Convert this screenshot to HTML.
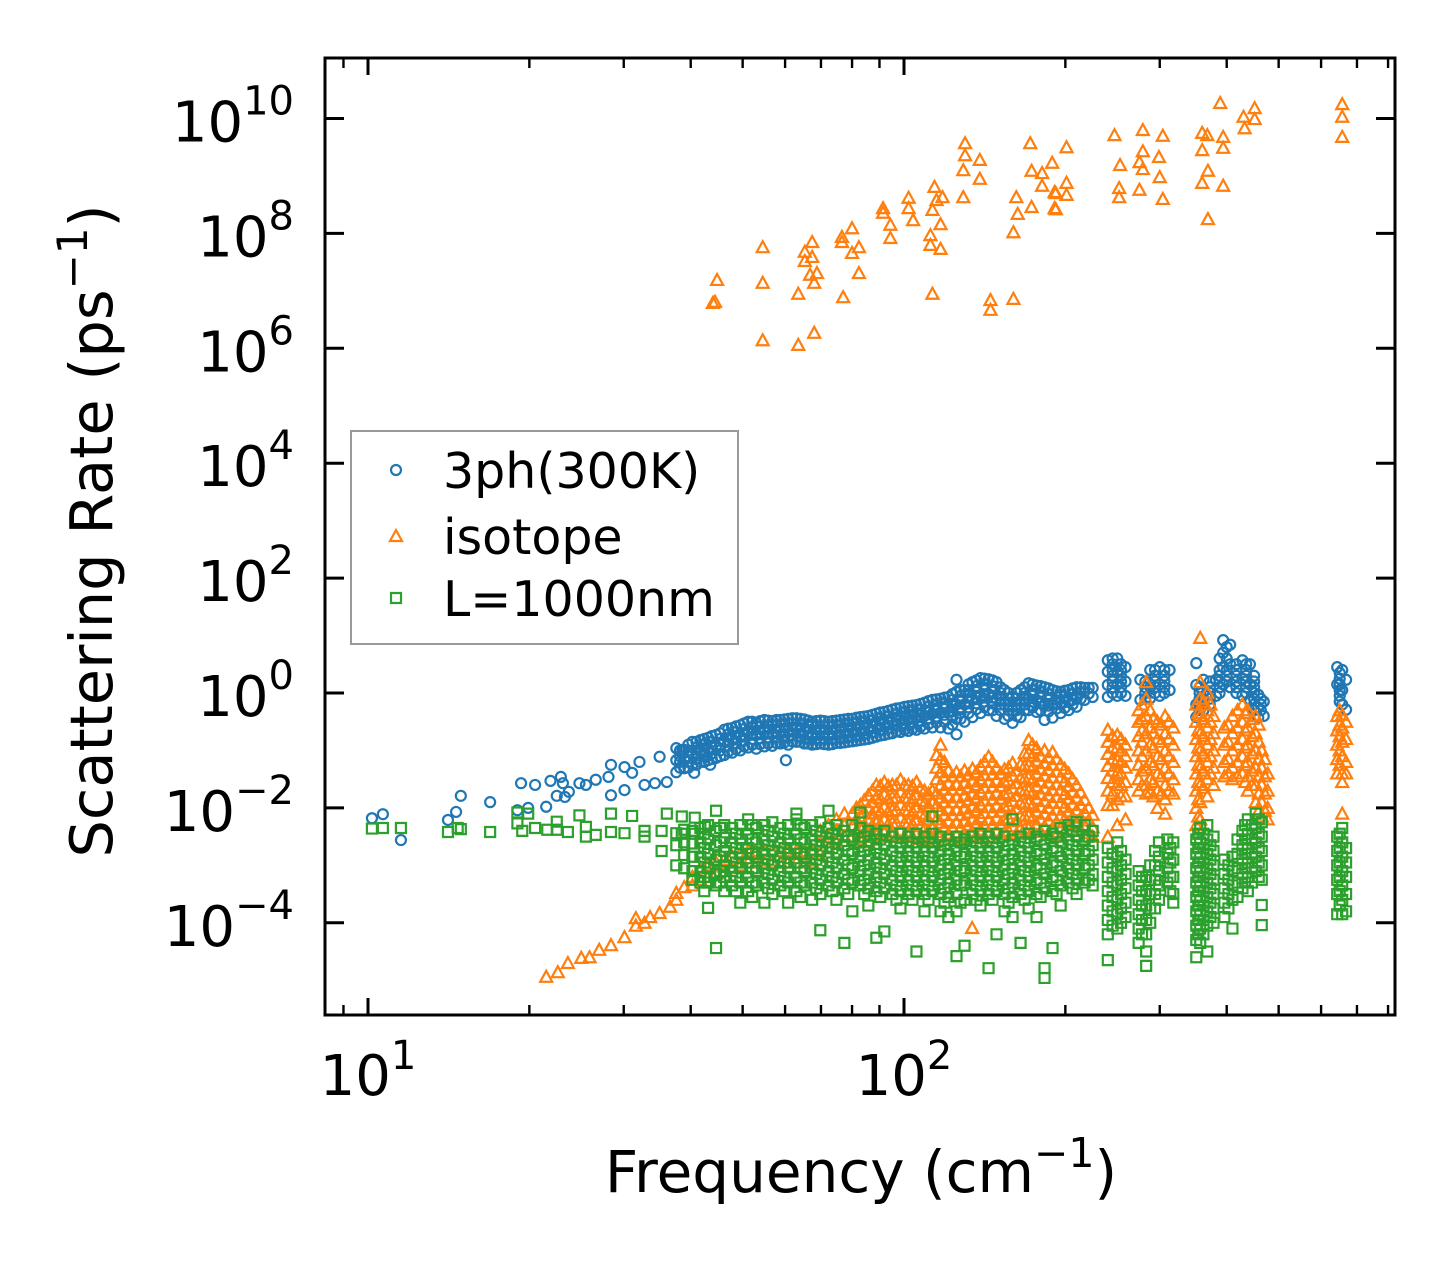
<!DOCTYPE html>
<html><head><meta charset="utf-8"><style>
html,body{margin:0;padding:0;background:#fff;}
svg{display:block;font-family:"DejaVu Sans","Liberation Sans",sans-serif;}
</style></head><body>
<svg id="chart" width="1455" height="1265" viewBox="0 0 1455 1265" xmlns="http://www.w3.org/2000/svg">
<rect width="1455" height="1265" fill="#fff"/>
<g id="marks"></g>
<g id="axes"></g>
<g id="legend"></g>
</svg>
<script>
// ---- data: frequency (cm^-1) and log10(scattering rate, ps^-1) per frequency ----
const xMajorTicks = [10, 100];
const xMinorTicks = [9, 20, 30, 40, 50, 60, 70, 80, 90, 200, 300, 400, 500, 600, 700, 800];
const yTickExponents = [-4, -2, 0, 2, 4, 6, 8, 10];
const yTickLabels = ["\u22124", "\u22122", "0", "2", "4", "6", "8", "10"];
const seriesNames = ["3ph(300K)", "isotope", "L=1000nm"];

const phFreq = [10.17,10.66,11.52,14.1,14.6,14.9,16.9,19.0,19.3,19.9,20.5,21.5,21.9,22.5,22.9,23.1,23.3,23.7,24.8,25.5,26.6,28.1,28.4,30.1,31.1,32.1,32.8,34.3,35.0,36.1,38.6,40.6,43.5,60.2,
37.6,38.9,40.3,41.7,43.1,44.6,46.2,47.8,49.5,51.2,53.0,54.9,56.8,58.8,60.8,63.0,65.2,67.4,69.8,72.3,74.8,77.4,80.1,82.9,85.8,88.8,91.9,95.1,98.5,101.9,105.5,109.2,113,117,121,125.3,129.7,134.2,138.9,143.8,148.8,154,159.4,165,170.8,176.7,182.9,189.3,196,202.8,209.9,217.3,224.9,
240,250,259,276,288,300,313,351,362,382,394,406,428,442,458,469,643,657,668];
const phLogRate = [[-2.18],[-2.11],[-2.56],[-2.21],[-2.07],[-1.79],[-1.9],[-2.04],[-1.57],[-2.0],[-1.6],[-1.98],[-1.53],[-1.79],[-1.46],[-1.57],[-1.81],[-1.72],[-1.57],[-1.6],[-1.51],[-1.46],[-1.25,-1.78],[-1.29,-1.69],[-1.39],[-1.2],[-1.6],[-1.57],[-1.11],[-1.55],[-0.99],[-1.39],[-1.25],[-1.17],
[-0.96,-1.17,-1.38],[-0.99,-1.15,-1.31],[-0.85,-1.05,-1.25],[-0.82,-1.0,-1.2],[-0.78,-0.97,-1.17],[-0.73,-0.92,-1.13],[-0.64,-0.84,-1.08],[-0.61,-0.8,-1.04],[-0.56,-0.75,-1.0],[-0.5,-0.7,-0.95],[-0.52,-0.72,-0.97],[-0.47,-0.68,-0.93],[-0.49,-0.7,-0.92],[-0.47,-0.66,-0.88],[-0.45,-0.65,-0.9],[-0.44,-0.63,-0.85],[-0.46,-0.66,-0.88],[-0.5,-0.7,-0.9],[-0.48,-0.68,-0.88],[-0.5,-0.7,-0.9],[-0.48,-0.67,-0.87],[-0.46,-0.66,-0.86],[-0.45,-0.64,-0.84],[-0.42,-0.62,-0.82],[-0.4,-0.6,-0.8],[-0.36,-0.56,-0.76],[-0.33,-0.53,-0.73],[-0.29,-0.5,-0.7],[-0.26,-0.47,-0.68],[-0.23,-0.45,-0.66],[-0.21,-0.43,-0.64],[-0.17,-0.4,-0.62],[-0.12,-0.36,-0.6],[-0.1,-0.34,-0.6],[-0.07,-0.33,-0.62],[0.02,0.23,-0.2,-0.45,-0.72],[0.05,-0.2,-0.5],[0.19,-0.1,-0.42],[0.26,-0.05,-0.35],[0.24,-0.02,-0.3],[0.19,-0.1,-0.4],[0.05,-0.2,-0.45],[-0.07,-0.3,-0.52],[0.05,-0.2,-0.42],[0.17,-0.1,-0.3],[0.13,-0.12,-0.33],[0.1,-0.2,-0.47],[0.05,-0.2,-0.43],[0.02,-0.17,-0.35],[0.05,-0.14,-0.3],[0.1,-0.1,-0.24],[0.09,-0.12],[0.09,-0.07],
[0.57,0.37,0.14,-0.07],[0.6,0.38,0.15,-0.05],[0.45,0.2,-0.05],[0.23,-0.12],[0.4,0.1,-0.09],[0.45,0.15,-0.05],[0.4,0.05],[0.52,0.14,-0.2,-0.42],[0.23,-0.1,-0.3],[0.23,-0.05],[0.92,0.7,0.45,0.15],[0.84,0.5,0.1],[0.57,0.25,-0.05],[0.5,0.15,-0.12],[-0.03,-0.25,-0.43],[-0.15,-0.4],[0.45,0.15],[0.4,0.05,-0.2],[0.23,-0.29]];
const phFreqB = [38.2,39.6,41.0,42.4,43.8,45.4,47.0,48.6,50.3,52.1,53.9,55.8,57.8,59.8,61.9,64.1,66.3,68.6,71.0,73.5,76.1,78.7,81.5,84.3,87.3,90.3,93.5,96.8,100.2,103.7,107.3,111.1,115,119,123.1,127.5,131.9,136.5,141.3,146.3,151.4,156.7,162.2,167.9,173.7,179.8,186.1,192.6,199.4,206.3,213.6,221.1,
245,254,282,294,306,356,372,388,400,417,435,450,463,650];
const phLogRateB = [[-1.0,-1.1,-1.2,-1.3],[-0.9,-1.0,-1.1,-1.2,-1.3],[-0.85,-0.95,-1.05,-1.15,-1.25],[-0.8,-0.9,-1.0,-1.1,-1.2],[-0.75,-0.85,-0.95,-1.05,-1.15],[-0.7,-0.8,-0.9,-1.0,-1.1],[-0.62,-0.72,-0.82,-0.92,-1.02],[-0.58,-0.68,-0.78,-0.88,-0.98],[-0.53,-0.63,-0.73,-0.83,-0.93],[-0.5,-0.6,-0.7,-0.8,-0.9],[-0.49,-0.59,-0.69,-0.79,-0.89],[-0.48,-0.58,-0.68,-0.78,-0.88],[-0.47,-0.57,-0.67,-0.77,-0.87],[-0.46,-0.56,-0.66,-0.76,-0.86],[-0.44,-0.54,-0.64,-0.74,-0.84],[-0.45,-0.55,-0.65,-0.75,-0.85],[-0.48,-0.58,-0.68,-0.78,-0.88],[-0.49,-0.59,-0.69,-0.79,-0.89],[-0.49,-0.59,-0.69,-0.79,-0.89],[-0.49,-0.59,-0.69,-0.79,-0.89],[-0.47,-0.57,-0.67,-0.77,-0.87],[-0.45,-0.55,-0.65,-0.75,-0.85],[-0.43,-0.53,-0.63,-0.73,-0.83],[-0.41,-0.51,-0.61,-0.71,-0.81],[-0.38,-0.48,-0.58,-0.68,-0.78],[-0.34,-0.44,-0.54,-0.64,-0.74],[-0.31,-0.41,-0.51,-0.61,-0.71],[-0.27,-0.37,-0.47,-0.57,-0.67],[-0.24,-0.34,-0.44,-0.54,-0.64],[-0.22,-0.32,-0.42,-0.52,-0.62],[-0.19,-0.29,-0.39,-0.49,-0.59],[-0.14,-0.24,-0.34,-0.44,-0.54],[-0.11,-0.21,-0.31,-0.41,-0.51],[-0.08,-0.18,-0.28,-0.38,-0.5],[-0.02,-0.12,-0.22,-0.32,-0.42,-0.55],[0.05,-0.05,-0.15,-0.25,-0.35,-0.45],[0.15,0.05,-0.05,-0.15,-0.25,-0.35],[0.22,0.12,0.02,-0.08,-0.18,-0.28],[0.25,0.15,0.05,-0.05,-0.15,-0.25],[0.22,0.12,0.02,-0.08,-0.18,-0.3],[0.1,0.0,-0.1,-0.2,-0.3],[0.0,-0.1,-0.2,-0.3,-0.4],[0.0,-0.1,-0.2,-0.3,-0.4],[0.1,0.0,-0.1,-0.2,-0.3],[0.15,0.05,-0.05,-0.15,-0.25],[0.12,0.02,-0.08,-0.18,-0.3],[0.08,-0.02,-0.12,-0.22,-0.32],[0.03,-0.07,-0.17,-0.27],[0.04,-0.06,-0.16,-0.26],[0.08,-0.02,-0.12,-0.2],[0.1,0.0,-0.1],[0.09,-0.01],
[0.6,0.5,0.4,0.3,0.2,0.1,0.0],[0.5,0.4,0.3,0.2,0.1,0.0],[0.2,0.1,0.0,-0.1],[0.4,0.3,0.2,0.1,0.0],[0.4,0.3,0.2,0.1,0.0],[0.1,0.0,-0.1,-0.2,-0.3],[0.2,0.1,0.0,-0.1,-0.2],[0.6,0.4,0.3,0.2,0.1,0.0],[0.8,0.6,0.4,0.3,0.2],[0.5,0.4,0.3,0.2,0.1,0.0],[0.5,0.4,0.3,0.2,0.1,0.0],[0.3,0.2,0.1,0.0,-0.1,-0.2,-0.3],[-0.1,-0.2,-0.3],[0.35,0.25,0.15,0.05,-0.05,-0.15]];

const isoFreq = [44.0,44.4,44.8,54.5,63.5,65.3,66.8,67.4,68.0,68.8,76.6,77.0,80.0,82.4,91.4,94.3,102,104,112,113,114,115,117,118,129,130,138.5,145,160,162,163,172,173,181,189,191,192,201,247,252,253,275,279,299,300,304,360,368,369,389,394,430,432,451,657,
21.5,22.6,23.6,25.0,25.9,27.0,28.4,30.1,31.6,32.8,33.6,35.0,36.6,37.6,38.9,40.3,41.7,43.1,44.6,46.2,47.8,49.5,51.2,53.0,54.9,56.8,58.8,60.8,63.0,65.2,67.4,69.8,72.3,74.8,77.4,80.1,82.9,85.8,88.8,91.9,95.1,98.5,101.9,105.5,109.2,113,117,121,125.3,129.7,134.2,138.9,143.8,148.8,154,159.4,165,170.8,176.7,182.9,189.3,196,202.8,209.9,217.3,224.9,
115,134,240,250,259,274,283,288,297,307,318,351,357,368,378,396,410,428,438,453,465,477,643,657,668];
const isoLogRate = [[6.79],[6.81],[7.19],[7.76,7.14,6.14],[6.95,6.06],[7.68,7.52],[7.28],[7.85,7.59],[7.14,6.27],[7.31],[7.94,7.85],[6.89],[8.09,7.66],[7.76,7.31],[8.44,8.36],[8.15,7.92],[8.62,8.44],[8.23],[7.97,7.8],[8.41,6.95],[8.81],[8.58],[8.16,7.73],[8.63],[9.1,8.63],[9.57,9.36],[9.28,8.95],[6.84,6.67],[6.86,8.02],[8.63],[8.34],[9.57],[8.46,9.09],[9.05,8.83],[9.23],[8.72,8.44],[8.7,8.42],[9.5,8.88,8.67],[9.71],[8.79,8.63],[9.19],[8.76,9.24],[9.8,9.43,9.12],[9.33],[8.98],[9.7,8.6],[9.75,9.45,8.88],[9.71],[9.09,8.25],[10.27],[9.68,9.49,8.83],[10.03],[9.83],[10.18,9.99],[10.25,10.03,9.68],
[-4.94],[-4.86],[-4.7],[-4.61],[-4.6],[-4.47],[-4.39],[-4.25],[-3.92,-4.05],[-4.0],[-3.9],[-3.83],[-3.72],[-3.48,-3.6],[-3.38],[-3.2,-3.35],[-3.05,-3.25],[-3.0,-3.2],[-2.95,-3.15],[-2.9,-3.1],[-2.85,-3.05],[-2.8,-3.0],[-2.75,-2.95],[-2.75,-2.95],[-2.75,-2.95],[-2.75,-2.95],[-2.75,-2.95],[-2.75,-2.95],[-2.75,-2.95],[-2.75,-2.95],[-2.75,-2.95],[-2.4,-2.6,-2.8],[-2.3,-2.5,-2.7],[-2.2,-2.4,-2.6],[-2.1,-2.3,-2.5],[-2.1,-2.3,-2.5],[-1.95,-2.15,-2.35,-2.55],[-1.78,-2.0,-2.2,-2.4,-2.6],[-1.6,-1.82,-2.04,-2.26,-2.48],[-1.55,-1.77,-1.99,-2.21,-2.43],[-1.6,-1.82,-2.04,-2.26,-2.48],[-1.51,-1.73,-1.95,-2.17,-2.39],[-1.6,-1.82,-2.04,-2.26,-2.48],[-1.55,-1.77,-1.99,-2.21,-2.43],[-1.7,-1.92,-2.14,-2.36,-2.58],[-1.7,-1.92,-2.14,-2.36,-2.58],[-0.9,-1.15,-1.38,-1.6,-1.82,-2.04,-2.26,-2.48],[-1.35,-1.57,-1.79,-2.01,-2.23,-2.45],[-1.38,-1.6,-1.82,-2.04,-2.26,-2.48],[-1.35,-1.57,-1.79,-2.01,-2.23,-2.45],[-1.32,-1.54,-1.76,-1.98,-2.2,-2.42],[-1.28,-1.5,-1.72,-1.94,-2.16,-2.38],[-1.11,-1.33,-1.55,-1.77,-1.99,-2.21,-2.43],[-1.3,-1.52,-1.74,-1.96,-2.18,-2.4],[-1.33,-1.55,-1.77,-1.99,-2.21,-2.43],[-1.22,-1.44,-1.66,-1.88,-2.1,-2.32],[-1.25,-1.47,-1.69,-1.91,-2.13,-2.35],[-0.82,-1.04,-1.26,-1.48,-1.7,-1.92,-2.14,-2.36],[-0.96,-1.18,-1.4,-1.62,-1.84,-2.06,-2.28],[-1.0,-1.22,-1.44,-1.66,-1.88,-2.1,-2.32],[-1.03,-1.25,-1.47,-1.69,-1.91,-2.13,-2.35],[-1.25,-1.47,-1.69,-1.91,-2.13,-2.35],[-1.4,-1.62,-1.84,-2.06,-2.28],[-1.6,-1.82,-2.04,-2.26],[-1.86,-2.08,-2.3],[-2.12,-2.34,-2.5],
[-1.08],[-4.09],[-0.64,-0.85,-1.06,-1.27,-1.48,-1.7,-1.95,-2.5],[-0.73,-0.95,-1.17,-1.39,-1.6,-1.85,-2.3],[-0.9,-1.1,-1.3,-1.55,-1.8,-2.2],[-0.3,-0.5,-0.75,-1.0,-1.25,-1.5,-1.7],[0.19,-0.1,-0.4,-0.7,-1.0,-1.3,-1.6,-1.75],[-0.3,-0.6,-0.9,-1.2,-1.5,-1.72],[-0.5,-0.8,-1.1,-1.4,-1.7,-2.0],[-0.4,-0.7,-1.0,-1.3,-1.6,-1.85,-2.1],[-0.6,-0.9,-1.2,-1.5,-1.75],[-0.2,-0.5,-0.8,-1.1,-1.4,-1.7,-2.0,-2.3],[0.96,0.19,-0.1,-0.4,-0.7,-1.0,-1.3,-1.6,-1.9,-2.2],[0.01,-0.3,-0.6,-0.9,-1.2,-1.5,-1.8],[-0.4,-0.7,-1.0,-1.3,-1.6],[-0.6,-0.9,-1.2,-1.45],[-0.4,-0.7,-1.0,-1.3,-1.5],[-0.2,-0.5,-0.8,-1.1,-1.4],[-0.3,-0.6,-0.9,-1.2,-1.45,-1.7],[-0.4,-0.7,-1.0,-1.3,-1.6,-1.9],[-1.0,-1.3,-1.6,-1.9,-2.15],[-1.4,-1.7,-2.0,-2.2],[-0.4,-0.65,-0.9,-1.15,-1.4],[-0.38,-0.6,-0.85,-1.1,-1.4,-1.55,-2.1],[-0.5,-0.8,-1.2,-1.4]];
const isoFreqB = [81.5,84.3,87.3,90.3,93.5,96.8,100.2,103.7,107.3,111.1,115,119,123.1,127.5,131.9,136.5,141.3,146.3,151.4,156.7,162.2,167.9,173.7,179.8,186.1,192.6,199.4,206.3,213.6,221.1,
245,254,278,292,302,312,354,362,373,403,419,433,446,459,471,650];
const isoLogRateB = [[-2.0,-2.2,-2.4,-2.6],[-1.87,-2.08,-2.3,-2.5],[-1.7,-1.9,-2.1,-2.3,-2.5],[-1.62,-1.84,-2.06,-2.28,-2.5],[-1.62,-1.84,-2.06,-2.28,-2.5],[-1.6,-1.82,-2.04,-2.26,-2.5],[-1.6,-1.82,-2.04,-2.26,-2.5],[-1.62,-1.84,-2.06,-2.28,-2.5],[-1.66,-1.88,-2.1,-2.32,-2.54],[-1.75,-1.97,-2.2,-2.42,-2.6],[-1.3,-1.5,-1.75,-1.97,-2.2,-2.42,-2.6],[-1.2,-1.45,-1.68,-1.9,-2.12,-2.34,-2.56],[-1.45,-1.68,-1.9,-2.12,-2.34,-2.56],[-1.45,-1.68,-1.9,-2.12,-2.34,-2.56],[-1.42,-1.64,-1.86,-2.08,-2.3,-2.52],[-1.38,-1.6,-1.82,-2.04,-2.26,-2.48],[-1.2,-1.43,-1.65,-1.87,-2.09,-2.31,-2.53],[-1.2,-1.41,-1.63,-1.85,-2.07,-2.29,-2.5],[-1.4,-1.62,-1.84,-2.06,-2.28,-2.5],[-1.3,-1.52,-1.74,-1.96,-2.18,-2.4],[-1.35,-1.57,-1.79,-2.01,-2.23,-2.45],[-1.05,-1.27,-1.49,-1.71,-1.93,-2.15,-2.37],[-0.9,-1.1,-1.3,-1.52,-1.74,-1.96,-2.18,-2.4],[-1.1,-1.32,-1.54,-1.76,-1.98,-2.2,-2.42],[-1.12,-1.34,-1.56,-1.78,-2.0,-2.22,-2.44],[-1.15,-1.37,-1.59,-1.81,-2.03,-2.25,-2.47],[-1.32,-1.54,-1.76,-1.98,-2.2,-2.42],[-1.5,-1.72,-1.94,-2.16,-2.38],[-1.73,-1.95,-2.17,-2.39],[-2.0,-2.22,-2.44],
[-0.75,-0.95,-1.15,-1.35,-1.55,-1.75,-1.95],[-0.8,-1.0,-1.2,-1.4,-1.6,-1.8],[-0.2,-0.45,-0.65,-0.85,-1.1,-1.35,-1.6],[-0.45,-0.7,-0.95,-1.25,-1.55,-1.8],[-0.55,-0.85,-1.15,-1.45,-1.75],[-0.5,-0.8,-1.1,-1.4,-1.7],[-0.35,-0.65,-0.95,-1.25,-1.55,-1.85,-2.15],[-0.15,-0.45,-0.75,-1.05,-1.35,-1.65],[-0.2,-0.5,-0.8,-1.1,-1.4],[-0.55,-0.85,-1.15,-1.4],[-0.3,-0.6,-0.9,-1.2,-1.45],[-0.35,-0.65,-0.95,-1.25,-1.55],[-0.45,-0.75,-1.05,-1.35,-1.6],[-0.55,-0.85,-1.15,-1.45,-1.75,-2.05],[-1.15,-1.45,-1.75,-2.05],[-0.3,-0.55,-0.75,-1.0,-1.25]];

const bdFreq = [10.17,10.66,11.52,14.1,14.7,14.9,16.9,19.0,19.4,19.9,20.5,21.6,22.5,23.6,24.8,25.5,26.6,28.4,30.1,31.1,32.8,35.3,36.1,38.5,40.7,42.5,
37.6,38.9,40.3,41.7,43.1,44.6,46.2,47.8,49.5,51.2,53.0,54.9,56.8,58.8,60.8,63.0,65.2,67.4,69.8,72.3,74.8,77.4,80.1,82.9,85.8,88.8,91.9,95.1,98.5,101.9,105.5,109.2,113,117,121,125.3,129.7,134.2,138.9,143.8,148.8,154,159.4,165,170.8,176.7,182.9,189.3,196,202.8,209.9,217.3,224.9,
240,250,259,274,283,288,299,310,318,351,357,368,378,396,410,428,438,453,465,643,657,668];
const bdLogRate = [[-2.36],[-2.35],[-2.35],[-2.42],[-2.35],[-2.37],[-2.42],[-2.27,-2.08],[-2.4],[-2.1],[-2.35],[-2.38],[-2.24,-2.38],[-2.42],[-2.13],[-2.33,-2.5],[-2.47],[-2.1,-2.42],[-2.44],[-2.14],[-2.4,-2.5],[-2.75,-2.4],[-2.1],[-2.15,-2.45],[-2.17,-2.45],[-2.33],
[-2.44,-2.65,-3.0],[-2.38,-2.6,-2.82,-3.05],[-2.4,-2.62,-2.85,-3.1,-3.25],[-2.35,-2.6,-2.85,-3.1,-3.3],[-2.3,-2.55,-2.8,-3.05,-3.3,-3.74],[-2.05,-2.4,-2.65,-2.9,-3.15,-3.35,-4.44],[-2.3,-2.52,-2.75,-3.0,-3.2,-3.45],[-2.35,-2.6,-2.85,-3.1,-3.35],[-2.3,-2.55,-2.8,-3.05,-3.3,-3.65],[-2.2,-2.45,-2.7,-2.95,-3.2,-3.45],[-2.35,-2.6,-2.85,-3.1,-3.35],[-2.3,-2.55,-2.8,-3.05,-3.3,-3.65],[-2.25,-2.5,-2.75,-3.0,-3.25,-3.5],[-2.35,-2.6,-2.85,-3.1,-3.35],[-2.3,-2.55,-2.8,-3.05,-3.3,-3.65],[-2.1,-2.2,-2.45,-2.7,-2.95,-3.2,-3.45],[-2.35,-2.6,-2.85,-3.1,-3.35],[-2.3,-2.55,-2.8,-3.05,-3.3,-3.6],[-2.25,-2.5,-2.75,-3.0,-3.25,-3.5,-4.13],[-2.05,-2.35,-2.6,-2.85,-3.1,-3.35],[-2.3,-2.55,-2.8,-3.05,-3.3,-3.6],[-2.4,-2.65,-2.9,-3.15,-3.4,-4.35],[-2.3,-2.55,-2.8,-3.05,-3.3,-3.8],[-2.08,-2.35,-2.6,-2.85,-3.1,-3.35],[-2.4,-2.65,-2.9,-3.15,-3.4,-3.7],[-2.45,-2.7,-2.95,-3.2,-3.45,-4.26],[-2.4,-2.65,-2.9,-3.15,-3.4,-4.15],[-2.5,-2.75,-3.0,-3.25,-3.5],[-2.45,-2.7,-2.95,-3.2,-3.45,-3.75],[-2.5,-2.75,-3.0,-3.25,-3.5],[-2.45,-2.7,-2.95,-3.2,-3.45,-4.5],[-2.5,-2.75,-3.0,-3.25,-3.5,-3.8],[-2.15,-2.45,-2.7,-2.95,-3.2,-3.45],[-2.5,-2.75,-3.0,-3.25,-3.5,-3.8],[-2.55,-2.8,-3.05,-3.3,-3.55,-3.9],[-2.5,-2.75,-3.0,-3.25,-3.5,-3.8,-4.58],[-2.55,-2.8,-3.05,-3.3,-3.6,-4.4],[-2.5,-2.75,-3.0,-3.25,-3.5],[-2.45,-2.7,-2.95,-3.2,-3.45,-3.7],[-2.5,-2.75,-3.0,-3.25,-3.5,-4.79],[-2.45,-2.7,-2.95,-3.2,-3.45,-4.2],[-2.5,-2.75,-3.0,-3.25,-3.5,-3.8],[-2.2,-2.55,-2.8,-3.05,-3.3,-3.55,-3.9],[-2.5,-2.75,-3.0,-3.25,-3.5,-4.35],[-2.45,-2.7,-2.95,-3.2,-3.45,-3.75],[-2.5,-2.75,-3.0,-3.25,-3.5,-3.9],[-2.4,-2.65,-2.9,-3.15,-3.4,-4.79,-4.96],[-2.45,-2.7,-2.95,-3.2,-3.45,-4.44],[-2.35,-2.6,-2.85,-3.1,-3.35,-3.7],[-2.3,-2.55,-2.8,-3.05,-3.3],[-2.25,-2.5,-2.75,-3.0,-3.25,-3.5],[-2.3,-2.55,-2.8,-3.05,-3.3],[-2.4,-2.65,-2.9,-3.15,-3.35],
[-2.7,-2.95,-3.2,-3.45,-3.7,-3.95,-4.2,-4.65],[-2.6,-2.85,-3.1,-3.35,-3.6,-3.85,-4.1],[-2.9,-3.15,-3.4,-3.65,-3.9],[-3.1,-3.35,-3.6,-3.85,-4.1,-4.35],[-3.2,-3.45,-3.7,-3.95,-4.2,-4.5,-4.75],[-3.0,-3.25,-3.5,-3.75,-4.0],[-2.6,-2.85,-3.1,-3.35,-3.6],[-2.55,-2.8,-3.05,-3.3],[-2.6,-2.9,-3.2,-3.5,-3.65],[-2.55,-2.8,-3.05,-3.3,-3.55,-3.8,-4.05,-4.3,-4.6],[-2.35,-2.6,-2.85,-3.1,-3.35,-3.6,-3.85,-4.1,-4.35],[-2.3,-2.55,-2.8,-3.05,-3.3,-3.55,-3.8,-4.05,-4.5],[-2.5,-2.75,-3.0,-3.25,-3.5,-3.75,-4.0],[-2.9,-3.15,-3.4,-3.65,-3.9],[-2.85,-3.1,-3.35,-3.6,-4.1],[-2.4,-2.65,-2.9,-3.15,-3.4],[-2.2,-2.45,-2.7,-2.95,-3.2,-3.45],[-2.1,-2.35,-2.6,-2.85,-3.1],[-2.25,-2.5,-2.75,-3.0,-3.25,-3.69,-4.04],[-2.5,-2.75,-3.0,-3.25,-3.5,-3.85],[-2.35,-2.6,-2.85,-3.1,-3.35,-3.6,-3.85],[-2.7,-2.95,-3.2,-3.5,-3.8]];
const bdFreqB = [42.4,45.4,48.6,52.1,55.8,59.8,64.1,68.6,73.5,78.7,84.3,90.3,96.8,103.7,111.1,119,127.5,136.5,146.3,156.7,167.9,179.8,192.6,206.3,221.1,
245,254,278,294,314,354,362,373,403,419,433,446,459,650];
const bdLogRateB = [[-2.45,-2.7,-2.95,-3.2,-3.45],[-2.35,-2.6,-2.85,-3.1,-3.3],[-2.45,-2.7,-2.95,-3.2,-3.45],[-2.3,-2.55,-2.8,-3.05,-3.3,-3.55],[-2.4,-2.65,-2.9,-3.15,-3.4],[-2.45,-2.7,-2.95,-3.2,-3.45],[-2.3,-2.55,-2.8,-3.05,-3.3,-3.55],[-2.4,-2.65,-2.9,-3.15,-3.4],[-2.45,-2.7,-2.95,-3.2,-3.45],[-2.5,-2.75,-3.0,-3.25,-3.5],[-2.5,-2.75,-3.0,-3.25,-3.5],[-2.55,-2.8,-3.05,-3.3,-3.55],[-2.6,-2.85,-3.1,-3.35,-3.6],[-2.6,-2.85,-3.1,-3.35,-3.6],[-2.6,-2.85,-3.1,-3.35,-3.6],[-2.65,-2.9,-3.15,-3.4,-3.65],[-2.6,-2.85,-3.1,-3.35,-3.65],[-2.6,-2.85,-3.1,-3.35,-3.6],[-2.6,-2.85,-3.1,-3.35,-3.6],[-2.65,-2.9,-3.15,-3.4,-3.65],[-2.6,-2.85,-3.1,-3.35,-3.6],[-2.55,-2.8,-3.05,-3.3,-3.55],[-2.5,-2.75,-3.0,-3.25,-3.5],[-2.4,-2.65,-2.9,-3.15,-3.4],[-2.5,-2.75,-3.0,-3.25],
[-2.8,-3.05,-3.3,-3.55,-3.8,-4.05],[-2.75,-3.0,-3.25,-3.5,-3.75,-4.0],[-3.2,-3.45,-3.7,-3.95,-4.2],[-2.75,-3.0,-3.25,-3.5,-3.75],[-2.7,-2.95,-3.2,-3.45],[-2.45,-2.7,-2.95,-3.2,-3.45,-3.7,-3.95,-4.2],[-2.45,-2.7,-2.95,-3.2,-3.45,-3.7,-3.95,-4.2],[-2.65,-2.9,-3.15,-3.4,-3.65,-3.9],[-3.0,-3.25,-3.5,-3.75],[-2.55,-2.8,-3.05,-3.3,-3.55],[-2.3,-2.55,-2.8,-3.05,-3.3],[-2.3,-2.55,-2.8,-3.05,-3.3],[-2.2,-2.45,-2.7,-2.95,-3.2],[-2.45,-2.7,-2.95,-3.2,-3.45,-3.7]];

// ---- axis functions ----
const AX = {left:325, right:1395, top:58, bottom:1015};
function xScale(f){ return 368 + 536*(Math.log10(f) - 1); }
function yScale(lr){ return 693 - 57.45*lr; }

const NS = "http://www.w3.org/2000/svg";
function mk(tag, attrs, parent){
  const e = document.createElementNS(NS, tag);
  for (const k in attrs) e.setAttribute(k, attrs[k]);
  parent.appendChild(e);
  return e;
}
const COLORS = ["#1f77b4", "#ff7f0e", "#2ca02c"];
function markerPath(kind, cx, cy){
  if (kind === 1) return `M${cx},${cy-6} L${cx+6},${cy+5} L${cx-6},${cy+5} Z`;
  return `M${cx-5},${cy-5} h10 v10 h-10 Z`;
}
function drawMarker(kind, cx, cy, parent){
  if (kind === 0) return mk("circle", {cx:cx, cy:cy, r:5, fill:"none", stroke:COLORS[0], "stroke-width":2.2}, parent);
  return mk("path", {d:markerPath(kind,cx,cy), fill:"none", stroke:COLORS[kind], "stroke-width":2.2}, parent);
}

const marks = document.getElementById("marks");
const clip = mk("clipPath", {id:"plotclip"}, mk("defs", {}, marks));
mk("rect", {x:AX.left, y:AX.top, width:AX.right-AX.left, height:AX.bottom-AX.top}, clip);
marks.setAttribute("clip-path", "url(#plotclip)");

const allSeries = [[phFreq.concat(phFreqB), phLogRate.concat(phLogRateB)], [isoFreq.concat(isoFreqB), isoLogRate.concat(isoLogRateB)], [bdFreq.concat(bdFreqB), bdLogRate.concat(bdLogRateB)]];
const seriesKeys = ["3ph-series", "isotope-series", "boundary-series"];
const pointNames = ["3ph-point", "isotope-point", "boundary-point"];
allSeries.forEach((s, k) => {
  const g = mk("g", {}, marks);
  
  
  const freqs = s[0], rates = s[1];
  for (let i = 0; i < freqs.length; i++) {
    const row = rates[i] || [];
    for (let j = 0; j < row.length; j++) {
      const el = drawMarker(k, xScale(freqs[i]), yScale(row[j]), g);
      
      
    }
  }
});

// ---- axes ----
const axes = document.getElementById("axes");
const frame = mk("rect", {x:AX.left, y:AX.top, width:AX.right-AX.left, height:AX.bottom-AX.top, fill:"none", stroke:"#000", "stroke-width":3}, axes);



xMajorTicks.forEach((v) => {
  const x = xScale(v);
  const t1 = mk("line", {x1:x, x2:x, y1:AX.bottom, y2:AX.bottom-17, stroke:"#000", "stroke-width":3}, axes);
  
  
  const t2 = mk("line", {x1:x, x2:x, y1:AX.top, y2:AX.top+17, stroke:"#000", "stroke-width":3}, axes);
  
  
  const lab = mk("text", {x:x, y:1095, "text-anchor":"middle", "font-size":56, fill:"#000"}, axes);
  
  
  const exp = Math.round(Math.log10(v));
  lab.innerHTML = `10<tspan dy="-26" font-size="40">${exp}</tspan>`;
});
xMinorTicks.forEach(v => {
  const x = xScale(v);
  const t1 = mk("line", {x1:x, x2:x, y1:AX.bottom, y2:AX.bottom-10, stroke:"#000", "stroke-width":2.4}, axes);
  
  
  const t2 = mk("line", {x1:x, x2:x, y1:AX.top, y2:AX.top+10, stroke:"#000", "stroke-width":2.4}, axes);
  
  
});
yTickExponents.forEach((e, i) => {
  const y = yScale(e);
  const t1 = mk("line", {x1:AX.left, x2:AX.left+19, y1:y, y2:y, stroke:"#000", "stroke-width":3}, axes);
  
  
  const t2 = mk("line", {x1:AX.right, x2:AX.right-19, y1:y, y2:y, stroke:"#000", "stroke-width":3}, axes);
  
  
  const lab = mk("text", {x:294, y:y+23, "text-anchor":"end", "font-size":56, fill:"#000"}, axes);
  
  
  lab.innerHTML = `10<tspan dy="-27" font-size="40">${yTickLabels[i]}</tspan>`;
});

const xt = mk("text", {x:861, y:1192, "text-anchor":"middle", "font-size":58, fill:"#000"}, axes);


xt.innerHTML = 'Frequency (cm<tspan dy="-25" font-size="41">\u22121</tspan><tspan dy="25">)</tspan>';
const yt = mk("text", {x:0, y:0, "text-anchor":"middle", "font-size":59, fill:"#000", transform:"translate(112,531) rotate(-90)"}, axes);


yt.innerHTML = 'Scattering Rate (ps<tspan dy="-25" font-size="42">\u22121</tspan><tspan dy="25">)</tspan>';

// ---- legend ----
const lg = document.getElementById("legend");
const box = mk("rect", {x:351, y:431, width:387, height:213, fill:"#fff", "fill-opacity":0.8, stroke:"#999", "stroke-width":2}, lg);


const rowY = [470, 536, 598];
const entryNames = ["legend-entry-3ph", "legend-entry-isotope", "legend-entry-boundary"];
seriesNames.forEach((n, k) => {
  const g = mk("g", {}, lg);
  
  
  const m = drawMarker(k, 396, rowY[k], g);
  
  
  const t = mk("text", {x:443, y:rowY[k]+18, "font-size":49, fill:"#000"}, g);
  
  
  t.textContent = n;
});
</script>
</body></html>
